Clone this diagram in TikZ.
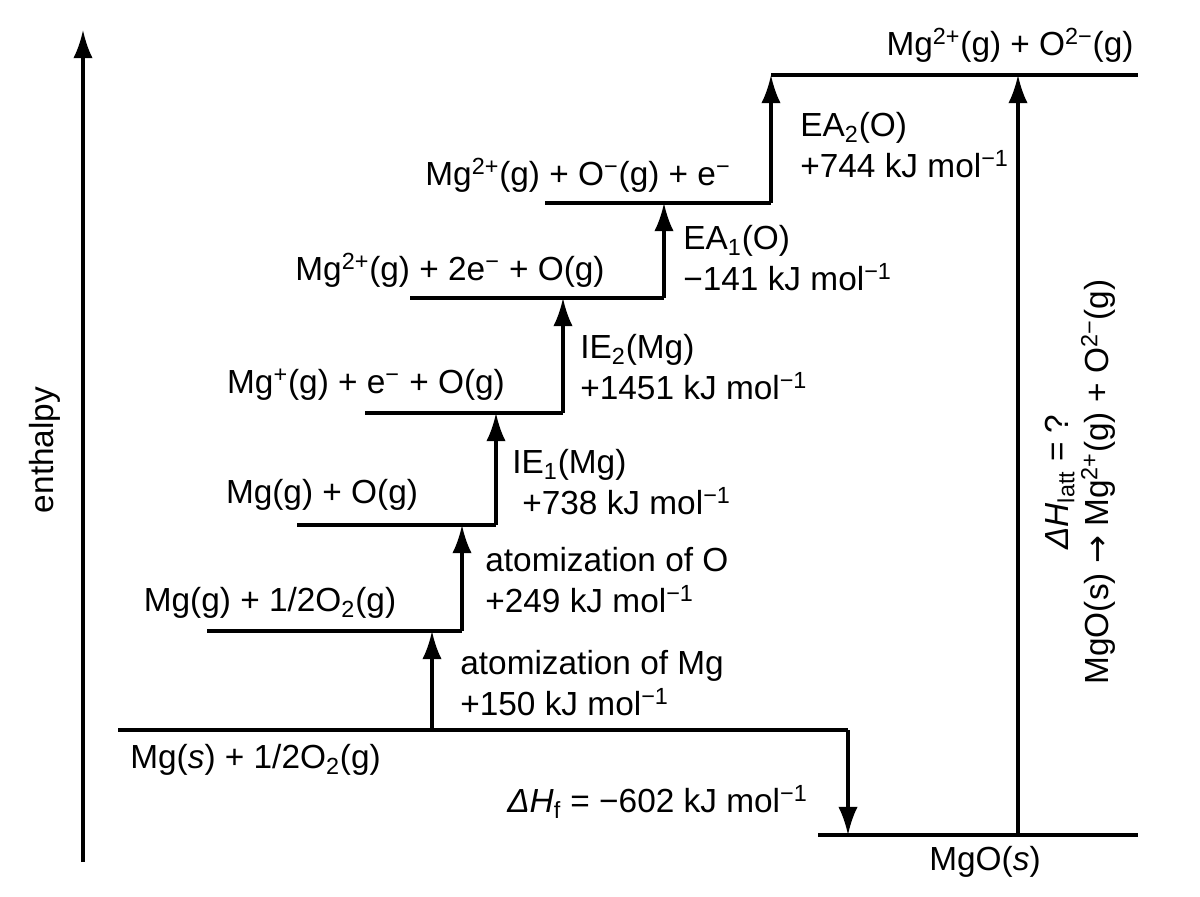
\documentclass[tikz,border=0pt]{standalone}
\usepackage{fontspec}
\setmainfont{Liberation Sans}
\newfontfamily\djv{DejaVu Sans}
\usetikzlibrary{arrows.meta}
\newcommand{\mn}{−}
\newcommand{\kj}[1]{#1 kJ mol\textsuperscript{\mn1}}
\begin{document}
\begin{tikzpicture}[x=0.02cm, y=-0.02cm]
    \tikzstyle{level}=[line width=1.8pt]
    \tikzstyle{jump}=[line width=1.8pt, -{Latex[length=16pt, width=11pt]}]
    \tikzstyle{txt}=[font=\fontsize{19}{23}\selectfont, inner sep=0pt]
    \useasboundingbox (0,0) rectangle (1200,896);

    % Levels
    \coordinate (s0) at (118,730); \coordinate (s0e) at (848,730);
    \coordinate (s1) at (207,631); \coordinate (s1e) at (462,631);
    \coordinate (s2) at (297,525); \coordinate (s2e) at (496,525);
    \coordinate (s3) at (365,413); \coordinate (s3e) at (563,413);
    \coordinate (s4) at (410,298); \coordinate (s4e) at (664,298);
    \coordinate (s5) at (545,203); \coordinate (s5e) at (771,203);
    \coordinate (s6) at (771,75);  \coordinate (s6e) at (1138,75);
    \coordinate (m0) at (818,835); \coordinate (m0e) at (1138,835);
    \draw[level] (s0) -- (s0e);
    \draw[level] (s1) -- (s1e);
    \draw[level] (s2) -- (s2e);
    \draw[level] (s3) -- (s3e);
    \draw[level] (s4) -- (s4e);
    \draw[level] (s5) -- (s5e);
    \draw[level] (s6) -- (s6e);
    \draw[level] (m0) -- (m0e);

    % Arrow ends
    \coordinate (a0) at (432,730); \coordinate (a1) at (432,631);
    \coordinate (f1) at (848,835);
    \coordinate (l0) at (1018,835); \coordinate (l1) at (1018,75);
    \coordinate (e0) at (83,862); \coordinate (e1) at (83,30);

    % Steps
    \draw[jump] (a0) -- (a1);
    \draw[jump] (s1e) -- (s1e |- s2);
    \draw[jump] (s2e) -- (s2e |- s3);
    \draw[jump] (s3e) -- (s3e |- s4);
    \draw[jump] (s4e) -- (s4e |- s5);
    \draw[jump] (s5e) -- (s6);
    \draw[jump] (s0e) -- (f1);
    \draw[jump] (l0) -- (l1);
    \draw[jump] (e0) -- (e1);

    % Species
    \node[txt] (t6) at (1010,45) {Mg\textsuperscript{2+}(g) + O\textsuperscript{2\mn}(g)};
    \node[txt] (t5) at (578,175) {Mg\textsuperscript{2+}(g) + O\textsuperscript{\mn}(g) + e\textsuperscript{\mn}};
    \node[txt] (t4) at (450,270) {Mg\textsuperscript{2+}(g) + 2e\textsuperscript{\mn} + O(g)};
    \node[txt] (t3) at (366,385) {Mg\textsuperscript{+}(g) + e\textsuperscript{\mn} + O(g)};
    \node[txt] (t2) at (322,495) {Mg(g) + O(g)};
    \node[txt] (t1) at (270,603) {Mg(g) + 1/2O\textsubscript{2}(g)};
    \node[txt, anchor=west] (t0) at (130,760) {Mg(\textit{s}) + 1/2O\textsubscript{2}(g)};
    \node[txt] (tm) at (985,862) {MgO(\textit{s})};

    % Step labels
    \node[txt, anchor=west, align=left] (ea2) at (800,145) {EA\textsubscript{2}(O)\\\kj{+744}};
    \node[txt, anchor=west, align=left] (ea1) at (683,258) {EA\textsubscript{1}(O)\\\kj{\mn141}};
    \node[txt, anchor=west, align=left] (ie2) at (580,367) {IE\textsubscript{2}(Mg)\\\kj{+1451}};
    \node[txt, anchor=west, align=left] (ie1) at (512,482) {IE\textsubscript{1}(Mg)\\\hspace{0.2cm}\kj{+738}};
    \node[txt, anchor=west, align=left] (ao) at (485,580) {atomization of O\\\kj{+249}};
    \node[txt, anchor=west, align=left] (am) at (460,683) {atomization of Mg\\\kj{+150}};
    \node[txt, anchor=east] (hf) at (808,802) {\textit{ΔH}\textsubscript{f} = \kj{\mn602}};
    \node[txt, rotate=90] (en) at (45,450) {enthalpy};
    \node[txt, rotate=90, align=center] (lat) at (1080,482)
        {\textit{ΔH}\textsubscript{latt} = ?\\MgO(s) {\djv →} Mg\textsuperscript{2+}(g) + O\textsuperscript{2\mn}(g)};
\end{tikzpicture}
\end{document}
